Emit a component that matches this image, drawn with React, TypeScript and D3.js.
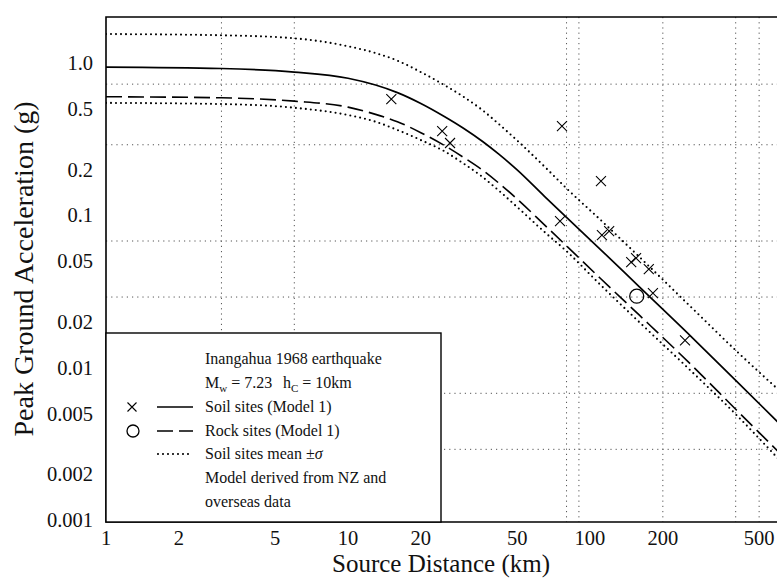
import React from 'react';
import * as d3 from 'd3';

// ---- data ----
const distances = [1, 3, 6, 10, 13, 16, 20, 25, 30, 36, 42, 50, 65, 80, 110, 160, 260, 400, 600];
const soilModel = [0.97, 0.95, 0.9, 0.82, 0.74, 0.66, 0.56, 0.46, 0.385, 0.315, 0.26, 0.205, 0.137, 0.1, 0.062, 0.035, 0.0167, 0.0085, 0.0045];
const rockModel = [0.62, 0.61, 0.58, 0.53, 0.475, 0.425, 0.36, 0.297, 0.248, 0.204, 0.168, 0.132, 0.089, 0.065, 0.04, 0.0228, 0.0109, 0.0055, 0.0029];
const soilPlusSigma = [1.6, 1.57, 1.5, 1.33, 1.2, 1.07, 0.9, 0.74, 0.62, 0.505, 0.41, 0.32, 0.215, 0.155, 0.097, 0.055, 0.026, 0.0134, 0.0074];
const soilMinusSigma = [0.565, 0.555, 0.525, 0.47, 0.425, 0.375, 0.322, 0.272, 0.226, 0.184, 0.15, 0.117, 0.08, 0.06, 0.0363, 0.0205, 0.0099, 0.0051, 0.0026];

const soilObsDist = [15.1, 24.5, 26.4, 76.6, 111, 75.2, 112, 120, 148, 155, 175, 182, 247];
const soilObsPga = [0.598, 0.369, 0.308, 0.398, 0.173, 0.0945, 0.0765, 0.0813, 0.0509, 0.054, 0.0458, 0.0318, 0.0156];
const rockObsDist = [156];
const rockObsPga = [0.0304];

const xTicks = [1, 2, 5, 10, 20, 50, 100, 200, 500];
const xTickLabels = ['1', '2', '5', '10', '20', '50', '100', '200', '500'];
const yTicks = [1, 0.5, 0.2, 0.1, 0.05, 0.02, 0.01, 0.005, 0.002, 0.001];
const yTickLabels = ['1.0', '0.5', '0.2', '0.1', '0.05', '0.02', '0.01', '0.005', '0.002', '0.001'];
const xGrid = [3, 6, 80, 90, 200, 400, 500];
const yGrid = [0.75, 0.3, 0.07, 0.03, 0.007, 0.003];

const legendLines = [
  'Inangahua 1968 earthquake',
  'Soil sites (Model 1)',
  'Rock sites (Model 1)',
  'Soil sites mean ',
  'Model derived from NZ and',
  'overseas data',
];

// ---- layout ----
const W = 777;
const H = 578;
const L = 106;
const T = 17;
const B = 522;
const R = 778.3;
const FONT = "'Liberation Serif', 'Times New Roman', Times, serif";

export default function App() {
  const x = d3.scaleLog().domain([1, 600]).range([L, R]);
  const y = d3.scaleLog().domain([0.001, 2.07]).range([B, T]);

  const mk = (vals: number[]) => distances.map((d, i) => [d, vals[i]] as [number, number]);
  const line = d3
    .line<[number, number]>()
    .x((p) => x(p[0]))
    .y((p) => y(p[1]))
    .curve(d3.curveMonotoneX);

  const gridStyle = { stroke: '#555', strokeWidth: 1, strokeDasharray: '1.2 4' };
  const dotStyle = { stroke: '#000', strokeWidth: 2.1, strokeDasharray: '0 5', strokeLinecap: 'round' as const };
  const tf = { fontFamily: FONT };

  const lx = 106, ly = 333, lw = 335, lh = B - 333;
  const rowY = [359, 383, 407, 431, 454, 478, 502];
  const textX = 205;

  const cross = (cx: number, cy: number, s: number) =>
    `M${cx - s},${cy - s}L${cx + s},${cy + s}M${cx - s},${cy + s}L${cx + s},${cy - s}`;

  return (
    <svg
      width={W}
      height={H}
      style={{ position: 'absolute', left: 0, top: 0, background: '#fff', fontFamily: FONT }}
    >
      <rect x={0} y={0} width={W} height={H} fill="#fff" />
      <defs>
        <clipPath id="plot">
          <rect x={L} y={T} width={W - L} height={B - T} />
        </clipPath>
      </defs>

      {/* grid */}
      {xGrid.map((g) => (
        <line key={'xg' + g} x1={x(g)} x2={x(g)} y1={T} y2={B} {...gridStyle} />
      ))}
      {yGrid.map((g) => (
        <line key={'yg' + g} x1={L} x2={W} y1={y(g)} y2={y(g)} {...gridStyle} />
      ))}

      <g clipPath="url(#plot)">
        <path d={line(mk(soilPlusSigma)) || ''} fill="none" {...dotStyle} />
        <path d={line(mk(soilMinusSigma)) || ''} fill="none" {...dotStyle} />
        <path d={line(mk(rockModel)) || ''} fill="none" stroke="#000" strokeWidth={1.6} strokeDasharray="16 6" />
        <path d={line(mk(soilModel)) || ''} fill="none" stroke="#000" strokeWidth={1.7} />
        {soilObsDist.map((d, i) => (
          <path key={'s' + i} d={cross(x(d), y(soilObsPga[i]), 5)} stroke="#000" strokeWidth={1.1} fill="none" />
        ))}
        {rockObsDist.map((d, i) => (
          <circle key={'r' + i} cx={x(d)} cy={y(rockObsPga[i])} r={7} stroke="#000" strokeWidth={1.3} fill="none" />
        ))}
      </g>

      {/* frame */}
      <path d={`M${W},${T}H${L}V${B}H${W}`} fill="none" stroke="#000" strokeWidth={1.6} />

      {/* y tick labels */}
      {yTicks.map((t, i) => (
        <text key={'yt' + t} x={93} y={y(t) + 5} textAnchor="end" fontSize={20.5} fill="#111" style={tf}>
          {yTickLabels[i]}
        </text>
      ))}
      {/* x tick labels */}
      {xTicks.map((t, i) => (
        <text key={'xt' + t} x={x(t)} y={545} textAnchor="middle" fontSize={20.5} fill="#111" style={tf}>
          {xTickLabels[i]}
        </text>
      ))}

      {/* axis titles */}
      <text x={441} y={572} textAnchor="middle" fontSize={25} fill="#111" style={tf}>
        Source Distance (km)
      </text>
      <text
        transform={`translate(33,269) rotate(-90)`}
        textAnchor="middle"
        fontSize={28}
        fill="#111"
        style={tf}
      >
        Peak Ground Acceleration (g)
      </text>

      {/* legend */}
      <rect x={lx} y={ly} width={lw} height={lh} fill="#fff" stroke="#000" strokeWidth={1.4} />
      <g fontSize={16} fill="#111" style={tf}>
        <text x={textX} y={rowY[0] + 5}>{legendLines[0]}</text>
        <text x={textX} y={rowY[1] + 5}>
          M<tspan fontSize={11} dy={4}>w</tspan>
          <tspan dy={-4}> = 7.23</tspan>
          <tspan x={283}>h</tspan>
          <tspan fontSize={11} dy={4}>C</tspan>
          <tspan dy={-4}> = 10km</tspan>
        </text>
        <text x={textX} y={rowY[2] + 5}>{legendLines[1]}</text>
        <text x={textX} y={rowY[3] + 5}>{legendLines[2]}</text>
        <text x={textX} y={rowY[4] + 5}>
          {legendLines[3]}±<tspan fontStyle="italic">σ</tspan>
        </text>
        <text x={textX} y={rowY[5] + 5}>{legendLines[4]}</text>
        <text x={textX} y={rowY[6] + 5}>{legendLines[5]}</text>
      </g>
      <path d={cross(132, rowY[2], 4.5)} stroke="#000" strokeWidth={1.1} fill="none" />
      <circle cx={133} cy={rowY[3]} r={6} stroke="#000" strokeWidth={1.3} fill="none" />
      <line x1={157} x2={193} y1={rowY[2]} y2={rowY[2]} stroke="#000" strokeWidth={1.7} />
      <line x1={157} x2={193} y1={rowY[3]} y2={rowY[3]} stroke="#000" strokeWidth={1.6} strokeDasharray="16 6" />
      <line x1={158} x2={193} y1={rowY[4]} y2={rowY[4]} {...dotStyle} />
    </svg>
  );
}
